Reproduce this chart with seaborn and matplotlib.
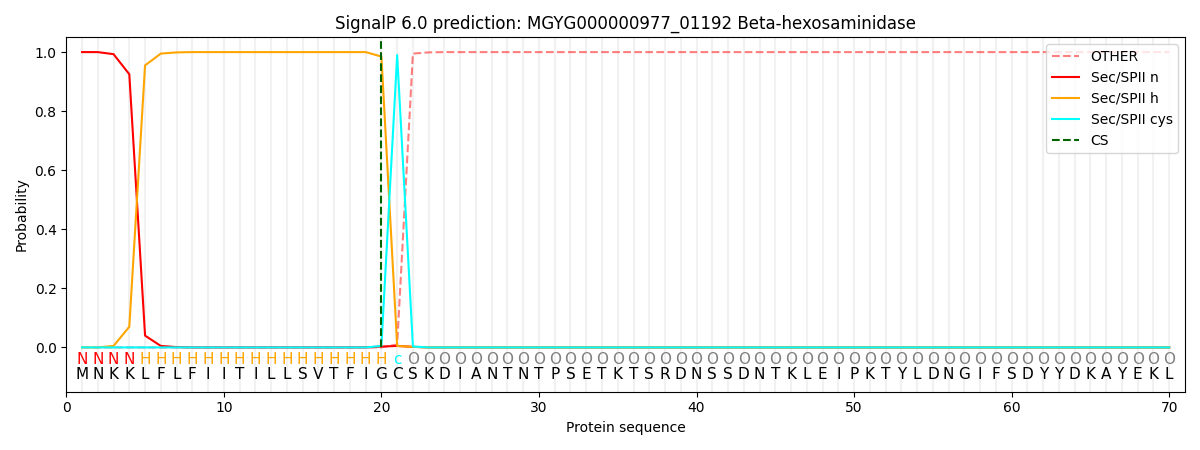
import matplotlib
matplotlib.use("Agg")
import matplotlib.pyplot as plt
import seaborn as sns
import numpy as np
import pandas as pd

TITLE = "SignalP 6.0 prediction: MGYG000000977_01192 Beta-hexosaminidase"

sequence = list("MNKKLFLFIITILLSVTFIGCSKDIANTNTPSETKTSRDNSSDNTKLEIPKTYLDNGIFSDYYDKAYEKL")
# 4 N, 16 H, 1 c, rest O
region_labels = ["N"] * 4 + ["H"] * 16 + ["c"] + ["O"] * 49

positions = np.arange(1, len(sequence) + 1)

prob_other = [0.0] * 20 + [0.01, 0.995, 0.999] + [1.0] * 47
prob_n = [1.0, 1.0, 0.993, 0.925, 0.04, 0.005, 0.001] + [0.0] * 12 + [0.003, 0.005, 0.002] + [0.0] * 48
prob_h = [0.0, 0.0, 0.005, 0.07, 0.955, 0.995, 0.999] + [1.0] * 12 + [0.985, 0.005, 0.002] + [0.0] * 48
prob_cys = [0.0] * 19 + [0.005, 0.99, 0.003] + [0.0] * 48
cs_position = 20

label_colors = {"N": "red", "H": "orange", "c": "cyan", "O": "gray"}

df = pd.DataFrame({
    "pos": positions,
    "OTHER": prob_other,
    "Sec/SPII n": prob_n,
    "Sec/SPII h": prob_h,
    "Sec/SPII cys": prob_cys,
})

plt.rcParams["font.family"] = ["DejaVu Sans"]

fig, ax = plt.subplots(figsize=(12, 4.5), dpi=100)

for p in positions:
    ax.axvline(p, color="lightgray", alpha=0.3, linewidth=1.5, zorder=0)

sns.lineplot(data=df, x="pos", y="OTHER", ax=ax, color="red", alpha=0.5,
             linestyle="--", label="OTHER")
sns.lineplot(data=df, x="pos", y="Sec/SPII n", ax=ax, color="red", label="Sec/SPII n")
sns.lineplot(data=df, x="pos", y="Sec/SPII h", ax=ax, color="orange", label="Sec/SPII h")
sns.lineplot(data=df, x="pos", y="Sec/SPII cys", ax=ax, color="cyan", label="Sec/SPII cys")
ax.plot([cs_position, cs_position], [0, 1.04], color="darkgreen", linestyle="--", label="CS")

for p, aa, lab in zip(positions, sequence, region_labels):
    ax.text(p, -0.04, lab, ha="center", va="center", fontsize=11, color=label_colors[lab])
    ax.text(p, -0.09, aa, ha="center", va="center", fontsize=11, color="black")

ax.set_xlim(0, 71)
ax.set_ylim(-0.15, 1.05)
ax.set_yticks([0.0, 0.2, 0.4, 0.6, 0.8, 1.0])
ax.set_xlabel("Protein sequence")
ax.set_ylabel("Probability")
ax.set_title(TITLE)
ax.legend(loc="upper right")

plt.tight_layout()
plt.savefig("out.png")
